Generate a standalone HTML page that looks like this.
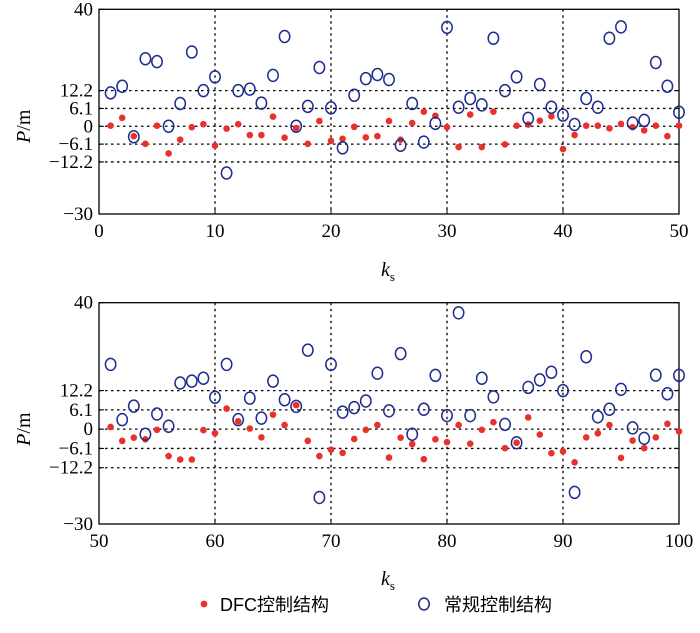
<!DOCTYPE html>
<html><head><meta charset="utf-8">
<style>
html,body{margin:0;padding:0;background:#fff;}
svg text{font-family:"Liberation Serif","Noto Serif CJK SC",serif;fill:#000;}
svg text.sans{font-family:"Liberation Sans","Noto Sans CJK SC",sans-serif;}
</style></head>
<body>
<svg id="chart" width="700" height="628" viewBox="0 0 700 628" xmlns="http://www.w3.org/2000/svg">
<g id="p1"></g>
<g id="p2"></g>
<g>
  <circle cx="204" cy="604" r="3.4" fill="#e8302c"/>
  <text class="sans" x="220" y="611" font-size="18">DFC控制结构</text>
  <ellipse cx="424" cy="604" rx="5.2" ry="6" fill="none" stroke="#1c2d8c" stroke-width="1.5"/>
  <text class="sans" x="444" y="611" font-size="18">常规控制结构</text>
</g>
</svg>
<script>
const kTop = [1,2,3,4,5,6,7,8,9,10,11,12,13,14,15,16,17,18,19,20,21,22,23,24,25,26,27,28,29,30,31,32,33,34,35,36,37,38,39,40,41,42,43,44,45,46,47,48,49,50];
const convTop = [11.4,13.7,-3.6,23.1,22.1,0,7.8,25.4,12.2,16.9,-16,12.2,12.7,7.9,17.4,30.7,0,6.8,20.1,6.3,-7.4,10.6,16.3,17.7,16,-6.5,7.8,-5.4,1,33.8,6.5,9.5,7.3,30.1,12.2,16.9,2.7,14.3,6.5,3.8,0.6,9.5,6.5,30.1,34,1.1,2,21.8,13.7,4.8];
const dfcTop = [0.2,2.9,-3.4,-6,0.2,-9.3,-4.6,-0.3,0.7,-6.6,-0.8,0.7,-3,-3,3.3,-3.9,-0.6,-6,1.8,-5,-4.3,-0.2,-3.8,-3.4,1.8,-4.6,1.1,5,3.6,-0.3,-7.1,4,-7.1,5,-6.2,0.2,0.6,1.9,3.4,-7.8,-3,0.2,0.2,-0.7,0.8,-0.3,-1.4,0.2,-3.4,0.2];
const kBot = [51,52,53,54,55,56,57,58,59,60,61,62,63,64,65,66,67,68,69,70,71,72,73,74,75,76,77,78,79,80,81,82,83,84,85,86,87,88,89,90,91,92,93,94,95,96,97,98,99,100];
const convBot = [20.5,3,7.3,-1.6,4.8,0.9,14.6,15.2,16.1,10.1,20.5,3,9.8,3.5,15.2,9.3,7.2,25,-21.6,20.5,5.4,6.8,8.9,17.7,5.8,23.9,-1.6,6.3,17,4.3,36.8,4.3,16.1,10.2,1.5,-4.3,13.2,15.6,18,12.2,-20,22.9,3.9,6.3,12.6,0.4,-2.9,17.1,11.2,17];
const dfcBot = [0.7,-3.7,-2.7,-3.2,-0.2,-8.5,-9.6,-9.6,-0.3,-1.3,6.5,2.5,0.2,-2.6,4.6,1.3,7.6,-3.7,-8.5,-6.5,-7.5,-3.1,-0.2,1.3,-9,-2.7,-4.7,-9.5,-3.2,-4.1,1.3,-4.6,-0.2,2.2,-6,-4.3,3.7,-1.7,-7.6,-7,-10.5,-2.6,-1.3,1.3,-9.1,-3.6,-6,-2.6,1.7,-0.7];
const yTicks = [40,12.2,6.1,0,-6.1,-12.2,-30];
const yTickLabels = ["40","12.2","6.1","0","\u22126.1","\u221212.2","\u221230"];
const gridY = [12.2,6.1,0,-6.1,-12.2];
const xTicksTop = [0,10,20,30,40,50];
const xTicksBot = [50,60,70,80,90,100];

const NS="http://www.w3.org/2000/svg";
function mk(parent,tag,attrs){const e=document.createElementNS(NS,tag);for(const k in attrs)e.setAttribute(k,attrs[k]);parent.appendChild(e);return e;}

function panel(g,x0,x1,yTop,yBot,xmin,xmax,xticks,ks,conv,dfc,xlabY,prefix){
  const L=99,R=679;
  const sx=v=>L+(v-xmin)/(xmax-xmin)*(R-L);
  const sy=v=>yTop+(40-v)/70*(yBot-yTop);
  for(const v of gridY){
    const l=mk(g,'line',{x1:L,x2:R,y1:sy(v),y2:sy(v),stroke:'#000','stroke-width':1.3,'stroke-dasharray':'2.5,3.5'});
    
    
  }
  for(const v of xticks.slice(1,-1)){
    const l=mk(g,'line',{x1:sx(v),x2:sx(v),y1:yTop,y2:yBot,stroke:'#000','stroke-width':1.3,'stroke-dasharray':'2.5,3.5'});
    
    
  }
  const fr=mk(g,'rect',{x:L,y:yTop,width:R-L,height:yBot-yTop,fill:'none',stroke:'#000','stroke-width':1.3});
  
  
  yTicks.forEach((v,i)=>{
    mk(g,'line',{x1:L,x2:L+5,y1:sy(v),y2:sy(v),stroke:'#000'});
    mk(g,'line',{x1:R,x2:R-5,y1:sy(v),y2:sy(v),stroke:'#000'});
    const t=mk(g,'text',{x:L-6,y:sy(v)+6,'text-anchor':'end','font-size':19});
    t.textContent=yTickLabels[i];
    
    
  });
  xticks.forEach(v=>{
    mk(g,'line',{x1:sx(v),x2:sx(v),y1:yBot,y2:yBot-5,stroke:'#000'});
    const t=mk(g,'text',{x:sx(v),y:yBot+23,'text-anchor':'middle','font-size':19});
    t.textContent=String(v);
    
    
  });
  const xl=mk(g,'text',{x:381,y:xlabY,'font-size':20,'font-style':'italic'});
  xl.innerHTML='k<tspan font-style="normal" font-size="13" dy="5">s</tspan>';
  
  
  const yl=mk(g,'text',{x:0,y:0,'font-size':20,'text-anchor':'middle',transform:`translate(30,${sy(0)}) rotate(-90)`});
  yl.innerHTML='<tspan font-style="italic">P</tspan>/m';
  
  
  ks.forEach((k,i)=>{
    const d=mk(g,'circle',{cx:sx(k),cy:sy(dfc[i]),r:3.3,fill:'#e8302c'});
    
    
  });
  ks.forEach((k,i)=>{
    const c=mk(g,'ellipse',{cx:sx(k),cy:sy(conv[i]),rx:5.2,ry:6,fill:'none',stroke:'#1c2d8c','stroke-width':1.5});
    
    
  });
}
panel(document.getElementById('p1'),99,679,9.3,214,0,50,xTicksTop,kTop,convTop,dfcTop,276,'top');
panel(document.getElementById('p2'),99,679,302.7,524,50,100,xTicksBot,kBot,convBot,dfcBot,585,'bottom');
</script>
</body></html>
